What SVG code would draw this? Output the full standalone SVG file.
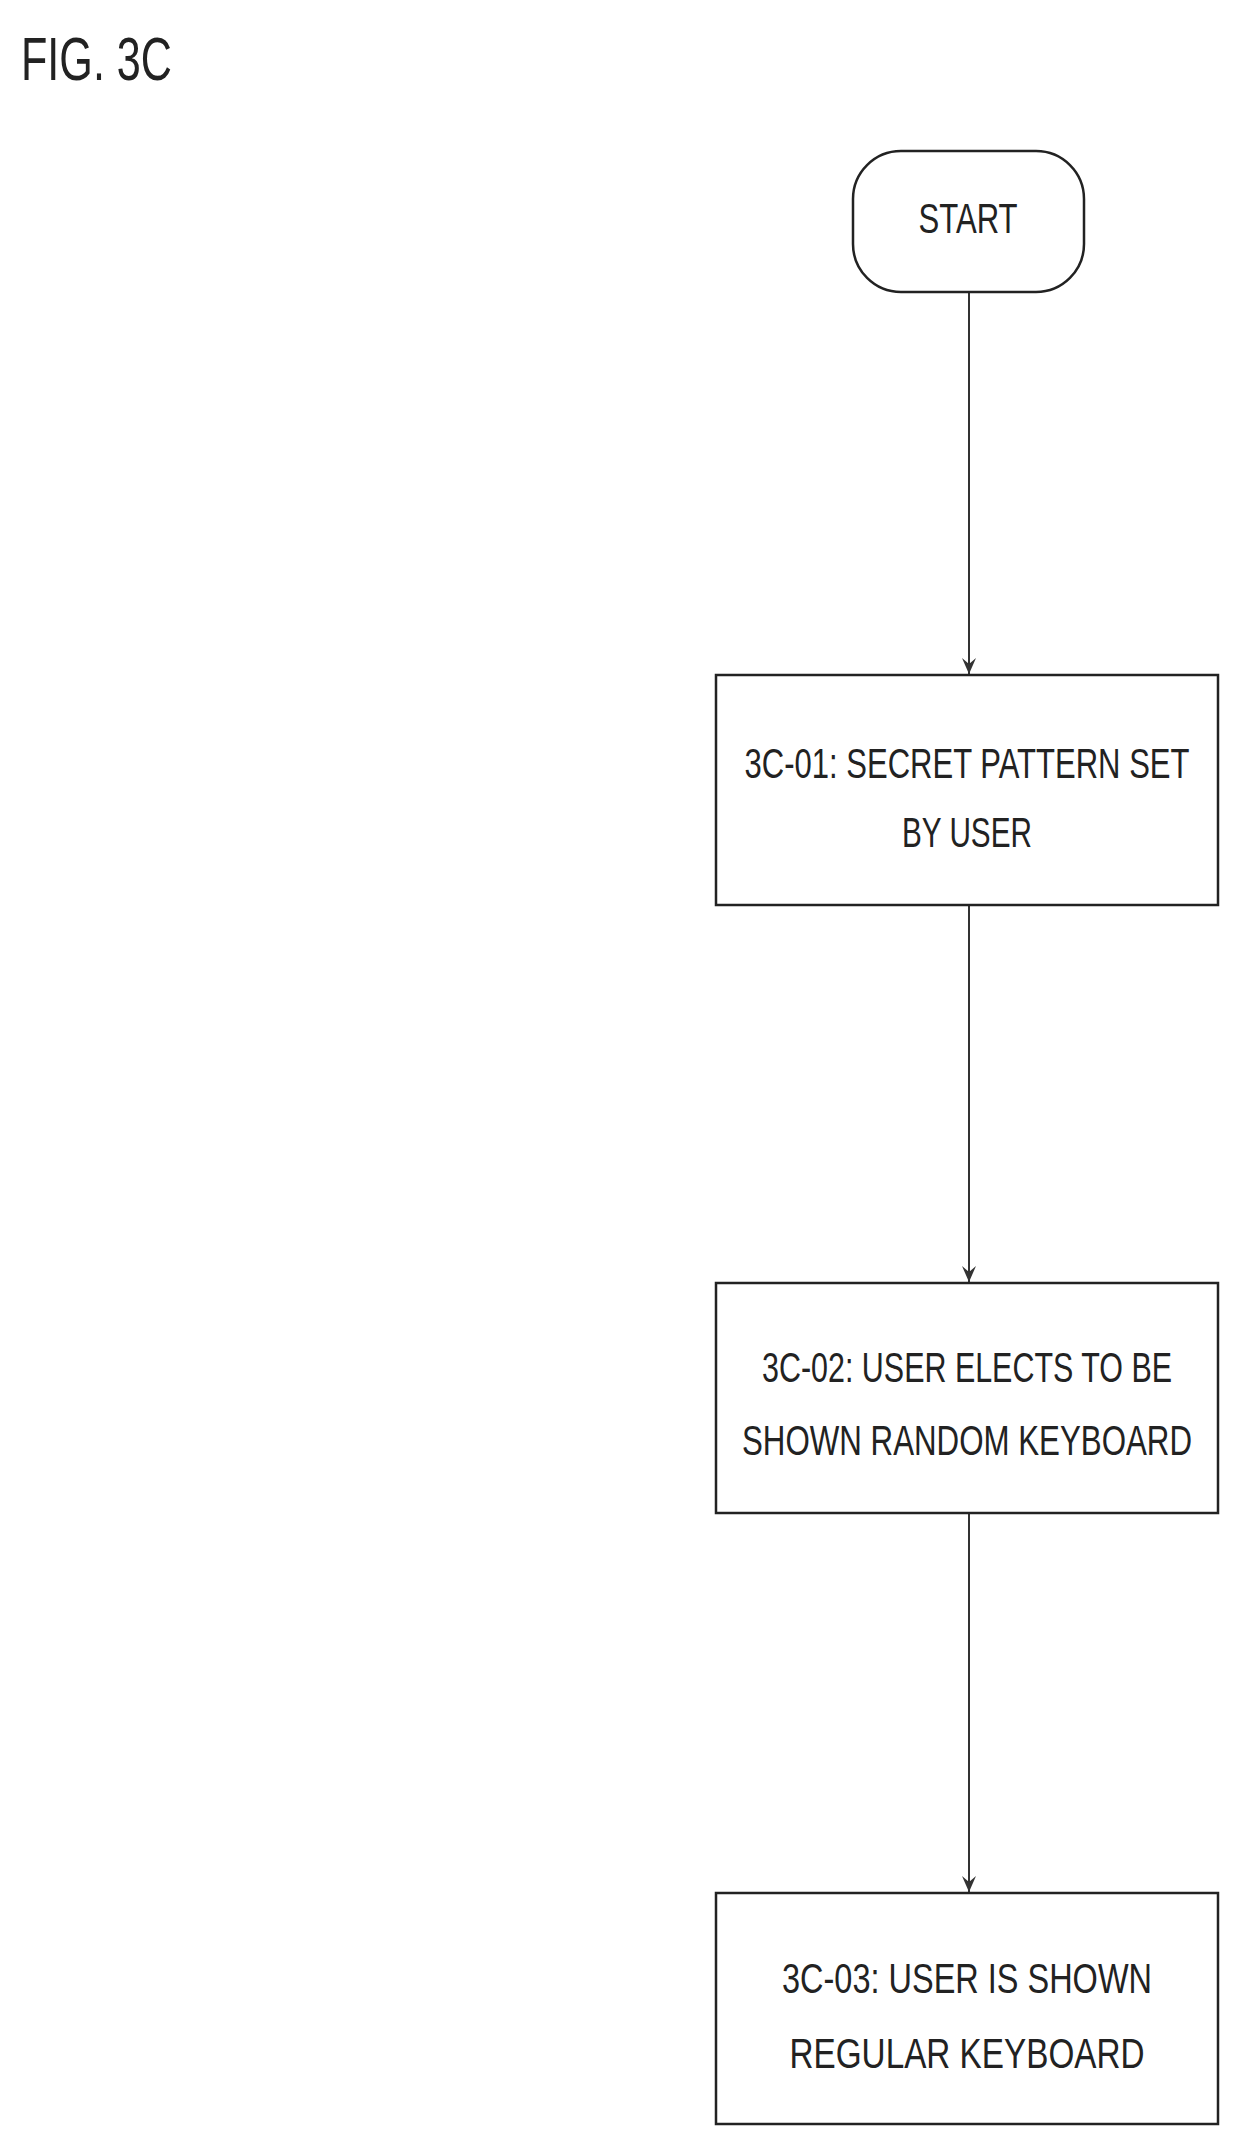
<svg xmlns="http://www.w3.org/2000/svg" width="1242" height="2152" viewBox="0 0 1242 2152">
<style>
.b{fill:#fff;stroke:#222;stroke-width:2.5}
.t{font-family:"Liberation Sans",Arial,sans-serif;font-size:32px;fill:#222;text-anchor:middle}
.c{stroke:#333;stroke-width:2;fill:none}
</style>
<defs><marker id="a" markerWidth="18" markerHeight="16" refX="16" refY="7" orient="auto" markerUnits="userSpaceOnUse"><path d="M0,0 L16,7 L0,14 L6,7 Z" fill="#333"/></marker></defs>
<rect width="1242" height="2152" fill="#fff"/>
<text x="21" y="80" font-family="Liberation Sans,Arial,sans-serif" font-size="62" fill="#222" textLength="151" lengthAdjust="spacingAndGlyphs">FIG. 3C</text>
<g id="connectors">
<line class="c" x1="969" y1="292" x2="969" y2="674" marker-end="url(#a)"/>
<line class="c" x1="969" y1="905" x2="969" y2="1282" marker-end="url(#a)"/>
<line class="c" x1="969" y1="1513" x2="969" y2="1892" marker-end="url(#a)"/>
</g>
<g id="start"><rect class="b" x="853" y="151" width="231" height="141" rx="48"/><text class="t" transform="translate(968,233) scale(1,1.3)" textLength="99" lengthAdjust="spacingAndGlyphs">START</text></g>
<g id="n1"><rect class="b" x="716" y="675" width="502" height="230"/><text class="t" transform="translate(967,778) scale(1,1.3)" textLength="445" lengthAdjust="spacingAndGlyphs">3C-01: SECRET PATTERN SET</text><text class="t" transform="translate(967,847) scale(1,1.3)" textLength="130" lengthAdjust="spacingAndGlyphs">BY USER</text></g>
<g id="n2"><rect class="b" x="716" y="1283" width="502" height="230"/><text class="t" transform="translate(967,1382) scale(1,1.3)" textLength="410" lengthAdjust="spacingAndGlyphs">3C-02: USER ELECTS TO BE</text><text class="t" transform="translate(967,1455) scale(1,1.3)" textLength="450" lengthAdjust="spacingAndGlyphs">SHOWN RANDOM KEYBOARD</text></g>
<g id="n3"><rect class="b" x="716" y="1893" width="502" height="231"/><text class="t" transform="translate(967,1993) scale(1,1.3)" textLength="370" lengthAdjust="spacingAndGlyphs">3C-03: USER IS SHOWN</text><text class="t" transform="translate(967,2068) scale(1,1.3)" textLength="355" lengthAdjust="spacingAndGlyphs">REGULAR KEYBOARD</text></g>
</svg>
